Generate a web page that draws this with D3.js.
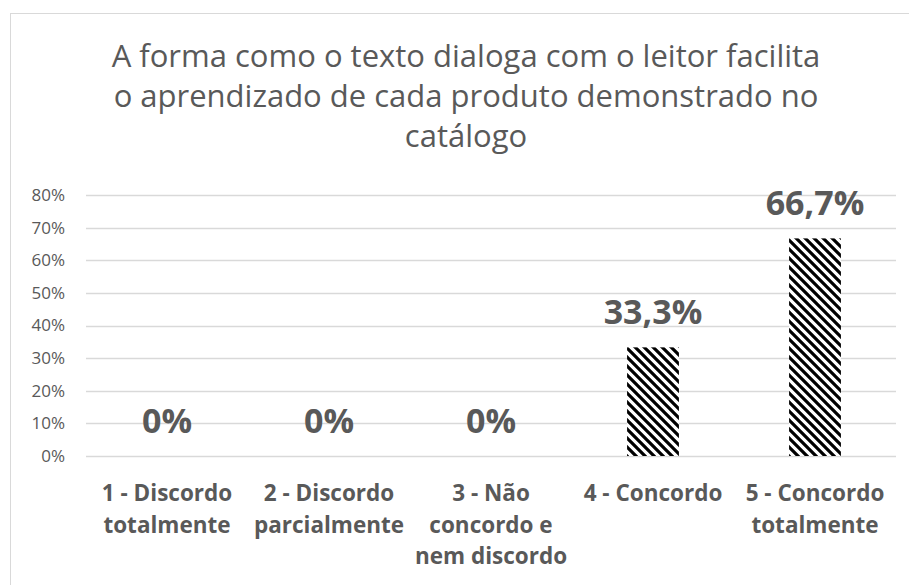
<!DOCTYPE html>
<html>
<head>
<meta charset="utf-8">
<script src="https://cdn.jsdelivr.net/npm/d3@7"></script>
<style>
  html, body { margin: 0; padding: 0; background: #fff; }
  svg { display: block; }
  text { font-family: "Open Sans", sans-serif; fill: #595959; }
</style>
</head>
<body>
<svg id="chart" width="909" height="585"></svg>
<script>
// Survey answers (Likert scale) and share of respondents
const categories = [
  "1 - Discordo totalmente",
  "2 - Discordo parcialmente",
  "3 - Não concordo e nem discordo",
  "4 - Concordo",
  "5 - Concordo totalmente"
];
const categoryLines = [
  ["1 - Discordo", "totalmente"],
  ["2 - Discordo", "parcialmente"],
  ["3 - Não", "concordo e", "nem discordo"],
  ["4 - Concordo"],
  ["5 - Concordo", "totalmente"]
];
const values = [0, 0, 0, 33.3, 66.7];
const valueLabels = ["0%", "0%", "0%", "33,3%", "66,7%"];
const yTicks = [0, 10, 20, 30, 40, 50, 60, 70, 80];
const titleLines = [
  "A forma como o texto dialoga com o leitor facilita",
  "o aprendizado de cada produto demonstrado no",
  "catálogo"
];

const svg = d3.select("#chart");
const W = 909, H = 585;

// chart frame
svg.append("rect")
  .attr("x", 10.5).attr("y", 13.5)
  .attr("width", W + 20).attr("height", H + 20)
  .attr("fill", "#fff").attr("stroke", "#d9d9d9").attr("stroke-width", 1);

// wide downward-diagonal hatch used for the bars
const defs = svg.append("defs");
const pat = defs.append("pattern")
  .attr("id", "hatch")
  .attr("patternUnits", "userSpaceOnUse")
  .attr("width", 9).attr("height", 9);
pat.append("rect").attr("width", 9).attr("height", 9).attr("fill", "#fff");
pat.append("path")
  .attr("d", "M-2,-2 L11,11 M-11,-2 L2,11 M7,-2 L20,11")
  .attr("stroke", "#000").attr("stroke-width", 3.2);

const plot = { left: 86, right: 896, top: 195, bottom: 456 };

const x = d3.scaleBand()
  .domain(categories)
  .range([plot.left, plot.right])
  .paddingInner(0.68)
  .paddingOuter(0.34);

const y = d3.scaleLinear()
  .domain([0, 80])
  .range([plot.bottom, plot.top]);

// title
svg.append("g").selectAll("text")
  .data(titleLines)
  .join("text")
  .attr("x", 466)
  .attr("y", (d, i) => 67 + i * 40)
  .attr("text-anchor", "middle")
  .style("font-size", "31px")
  .text(d => d);

// gridlines
svg.append("g").selectAll("line")
  .data(yTicks)
  .join("line")
  .attr("x1", plot.left).attr("x2", plot.right)
  .attr("y1", d => Math.round(y(d)) + 0.5)
  .attr("y2", d => Math.round(y(d)) + 0.5)
  .attr("stroke", "#d9d9d9").attr("stroke-width", 1.3);

// y axis labels
const yAxis = d3.axisLeft(y)
  .tickValues(yTicks)
  .tickFormat(d => d + "%")
  .tickSize(0)
  .tickPadding(0);
const yg = svg.append("g")
  .attr("transform", `translate(${plot.left - 21},0)`)
  .call(yAxis);
yg.select(".domain").remove();
yg.selectAll("text")
  .style("font-size", "17px")
  .style("font-family", "'Open Sans', sans-serif")
  .attr("fill", "#595959");

// bars
svg.append("g").selectAll("rect")
  .data(values)
  .join("rect")
  .attr("x", (d, i) => x(categories[i]))
  .attr("width", x.bandwidth())
  .attr("y", d => y(d))
  .attr("height", d => y(0) - y(d))
  .attr("fill", "url(#hatch)");

// value labels
svg.append("g").selectAll("text")
  .data(values)
  .join("text")
  .attr("x", (d, i) => x(categories[i]) + x.bandwidth() / 2)
  .attr("y", d => y(d) - 23)
  .attr("text-anchor", "middle")
  .style("font-size", "34px")
  .style("font-weight", "bold")
  .attr("fill", "#404040")
  .text((d, i) => valueLabels[i]);

// category labels
const cg = svg.append("g").selectAll("g")
  .data(categories)
  .join("g")
  .attr("transform", d => `translate(${x(d) + x.bandwidth() / 2},0)`);
cg.selectAll("text")
  .data((d, i) => categoryLines[i])
  .join("text")
  .attr("x", 0)
  .attr("y", (d, j) => 501 + j * 31.5)
  .attr("text-anchor", "middle")
  .style("font-size", "22.5px")
  .style("font-weight", "bold")
  .text(d => d);
</script>
</body>
</html>
